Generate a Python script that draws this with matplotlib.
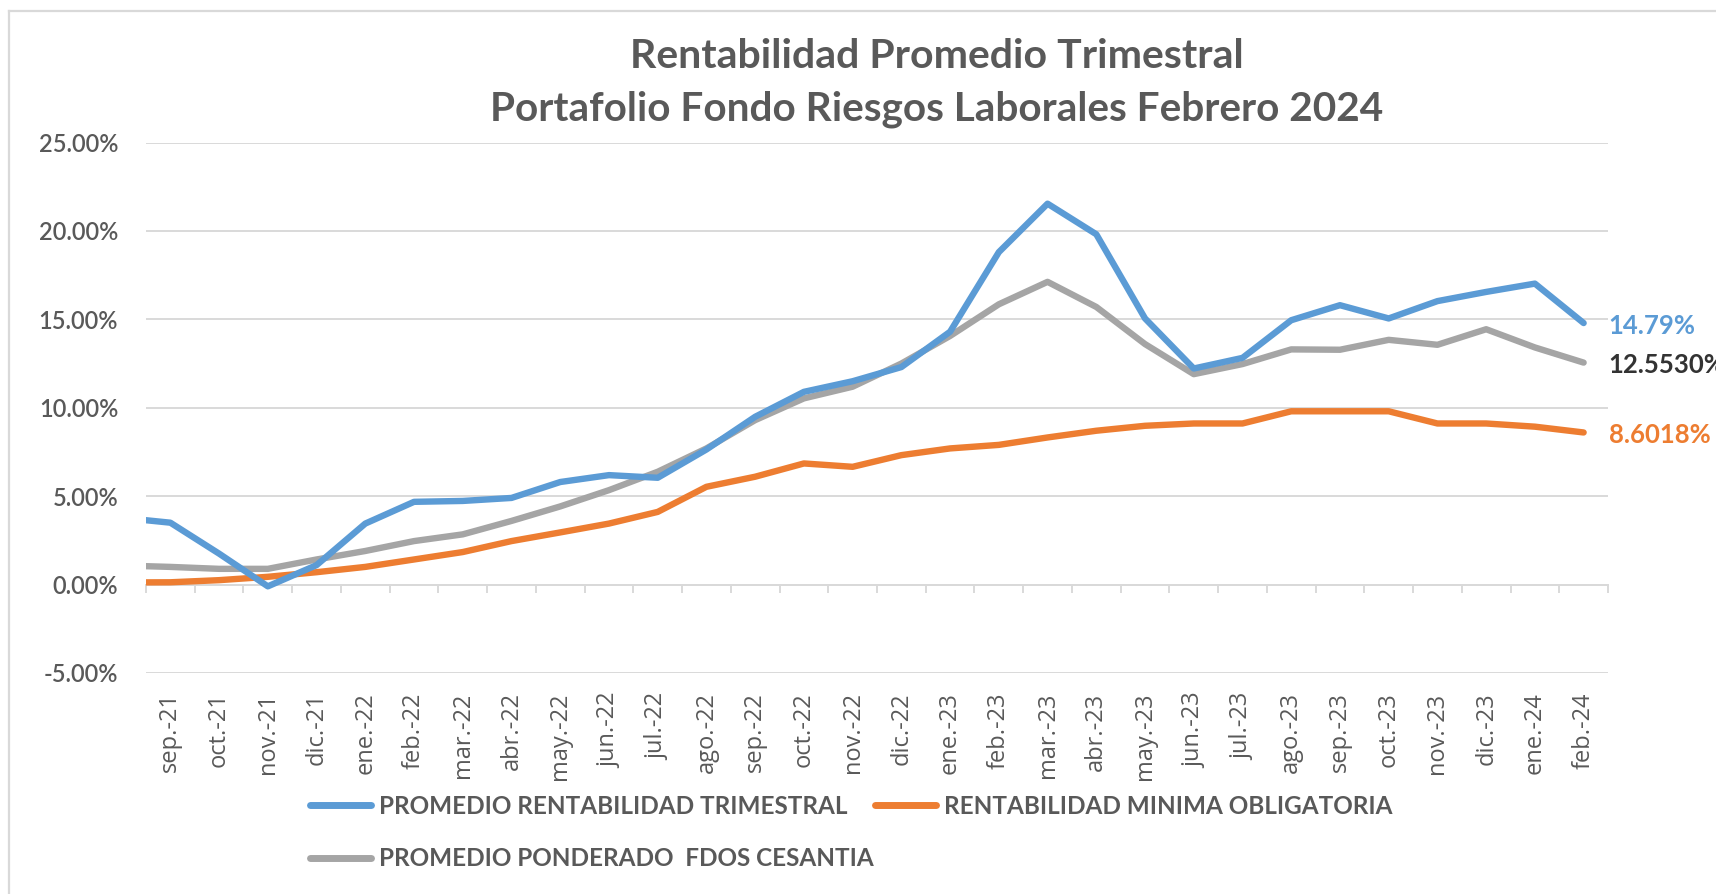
import numpy as np
import matplotlib
matplotlib.use("Agg")
import matplotlib.pyplot as plt
from matplotlib.lines import Line2D
from matplotlib.ticker import FuncFormatter

# ---------------- data ----------------
# first month (ago.-21) lies just left of the visible axis range and is clipped
months = ['ago.-21', 'sep.-21', 'oct.-21', 'nov.-21', 'dic.-21', 'ene.-22', 'feb.-22',
          'mar.-22', 'abr.-22', 'may.-22', 'jun.-22', 'jul.-22', 'ago.-22', 'sep.-22',
          'oct.-22', 'nov.-22', 'dic.-22', 'ene.-23', 'feb.-23', 'mar.-23', 'abr.-23',
          'may.-23', 'jun.-23', 'jul.-23', 'ago.-23', 'sep.-23', 'oct.-23', 'nov.-23',
          'dic.-23', 'ene.-24', 'feb.-24']

promedio_rentabilidad = [3.78, 3.50, 1.75, -0.10, 1.10, 3.45, 4.68, 4.73, 4.90, 5.80,
                         6.19, 6.04, 7.64, 9.49, 10.90, 11.50, 12.30, 14.30, 18.80, 21.54,
                         19.81, 15.05, 12.22, 12.82, 14.95, 15.80, 15.05, 16.03, 16.55,
                         17.02, 14.79]
rentabilidad_minima = [0.12, 0.13, 0.25, 0.44, 0.70, 1.00, 1.42, 1.84, 2.46, 2.95,
                       3.45, 4.11, 5.53, 6.10, 6.85, 6.66, 7.32, 7.70, 7.90, 8.32,
                       8.70, 8.98, 9.11, 9.11, 9.80, 9.80, 9.80, 9.11, 9.11,
                       8.93, 8.6018]
promedio_cesantia = [1.08, 1.00, 0.89, 0.89, 1.42, 1.90, 2.46, 2.84, 3.60, 4.42,
                     5.34, 6.38, 7.70, 9.30, 10.53, 11.19, 12.50, 14.06, 15.85, 17.12,
                     15.70, 13.60, 11.90, 12.47, 13.30, 13.28, 13.84, 13.56, 14.44,
                     13.41, 12.553]

series_names = ['PROMEDIO RENTABILIDAD TRIMESTRAL',
                'PROMEDIO PONDERADO  FDOS CESANTIA',
                'RENTABILIDAD MINIMA OBLIGATORIA']
end_labels = ['14.79%', '12.5530%', '8.6018%']
title_lines = ['Rentabilidad Promedio Trimestral',
               'Portafolio Fondo Riesgos Laborales Febrero 2024']
y_ticks = [-5, 0, 5, 10, 15, 20, 25]

# ---------------- style ----------------
BLUE = '#5B9BD5'
ORANGE = '#ED7D31'
GRAY = '#A5A5A5'
TXT = '#595959'
GRID = '#D9D9D9'
FONT = ['Lato', 'DejaVu Sans']
XFONT = ['Open Sans', 'DejaVu Sans']

plt.rcParams['font.family'] = FONT

W, H = 1716, 894
fig = plt.figure(figsize=(W / 100, H / 100), dpi=100)
fig.patch.set_facecolor('white')

# chart-area border (top and left visible)
fig.add_artist(Line2D([9 / W, 9 / W], [0, 1 - 11 / H], transform=fig.transFigure,
                      color=GRID, lw=1.6))
fig.add_artist(Line2D([9 / W, 1], [1 - 11 / H, 1 - 11 / H], transform=fig.transFigure,
                      color=GRID, lw=1.6))

left, right = 146 / W, 1608 / W
top, bottom = 1 - 142.5 / H, 1 - 673 / H
ax = fig.add_axes([left, bottom, right - left, top - bottom])

x = np.arange(len(months)) - 1
lw = 4.6
l_blue, = ax.plot(x, promedio_rentabilidad, color=BLUE, lw=lw,
                  solid_capstyle='round', solid_joinstyle='round', zorder=4)
l_orange, = ax.plot(x, rentabilidad_minima, color=ORANGE, lw=lw,
                    solid_capstyle='round', solid_joinstyle='round', zorder=3)
l_gray, = ax.plot(x, promedio_cesantia, color=GRAY, lw=lw,
                  solid_capstyle='round', solid_joinstyle='round', zorder=3)

n_vis = len(months) - 1
ax.set_xlim(-0.5, n_vis - 0.5)
ax.set_ylim(y_ticks[0], y_ticks[-1])

# y axis
ax.set_yticks(y_ticks)
ax.yaxis.set_major_formatter(FuncFormatter(lambda v, p: f'{v:.2f}%'))
ax.tick_params(axis='y', length=0, pad=20, labelsize=17, labelcolor=TXT)
for t in ax.get_yticklabels():
    t.set_fontweight('semibold')
ax.grid(axis='y', color=GRID, lw=1.4)
ax.set_axisbelow(True)

# category axis line at zero with boundary ticks
for s in ['left', 'right', 'top']:
    ax.spines[s].set_visible(False)
ax.spines['bottom'].set_position(('data', 0))
ax.spines['bottom'].set_color(GRID)
ax.spines['bottom'].set_linewidth(1.4)
ax.set_xticks(np.arange(-0.5, n_vis, 1.0))
ax.set_xticklabels([])
ax.tick_params(axis='x', direction='out', length=6, width=1.4, color=GRID)

# category labels at the bottom of the plot ("low" position)
sec = ax.secondary_xaxis(0.0)
sec.set_xticks(np.arange(n_vis), months[1:])
sec.tick_params(length=0, pad=14, labelsize=17, labelcolor=TXT)
for t in sec.get_xticklabels():
    t.set_rotation(90)
    t.set_fontfamily(XFONT)
sec.spines['bottom'].set_visible(False)

# end-of-line labels
last = n_vis - 1
for vals, lab, col in [(promedio_rentabilidad, end_labels[0], BLUE),
                       (promedio_cesantia, end_labels[1], '#333333'),
                       (rentabilidad_minima, end_labels[2], ORANGE)]:
    ax.annotate(lab, xy=(last, vals[-1]), xytext=(18, -2), textcoords='offset points',
                va='center', ha='left', fontsize=18.5, fontweight='bold', color=col,
                annotation_clip=False)

# title (two centred lines)
for txt, yc, fs in zip(title_lines, [56, 109], [29.5, 29.2]):
    fig.text(937 / W, 1 - yc / H, txt, ha='center', va='center',
             fontsize=fs, fontweight='bold', color=TXT)

# legend
handles = [l_blue, l_gray, l_orange]
leg = fig.legend(handles, series_names, ncol=2, loc='upper left',
                 bbox_to_anchor=(310 / W, 1 - 795 / H), frameon=False,
                 prop={'family': FONT, 'weight': 'bold', 'size': 17.5},
                 handlelength=2.5, handletextpad=0.32, columnspacing=0.08,
                 labelspacing=1.2, borderpad=0, borderaxespad=0)
for t in leg.get_texts():
    t.set_color(TXT)
for h in leg.get_lines():
    h.set_linewidth(5)

fig.savefig('out.png', dpi=100, facecolor='white')
